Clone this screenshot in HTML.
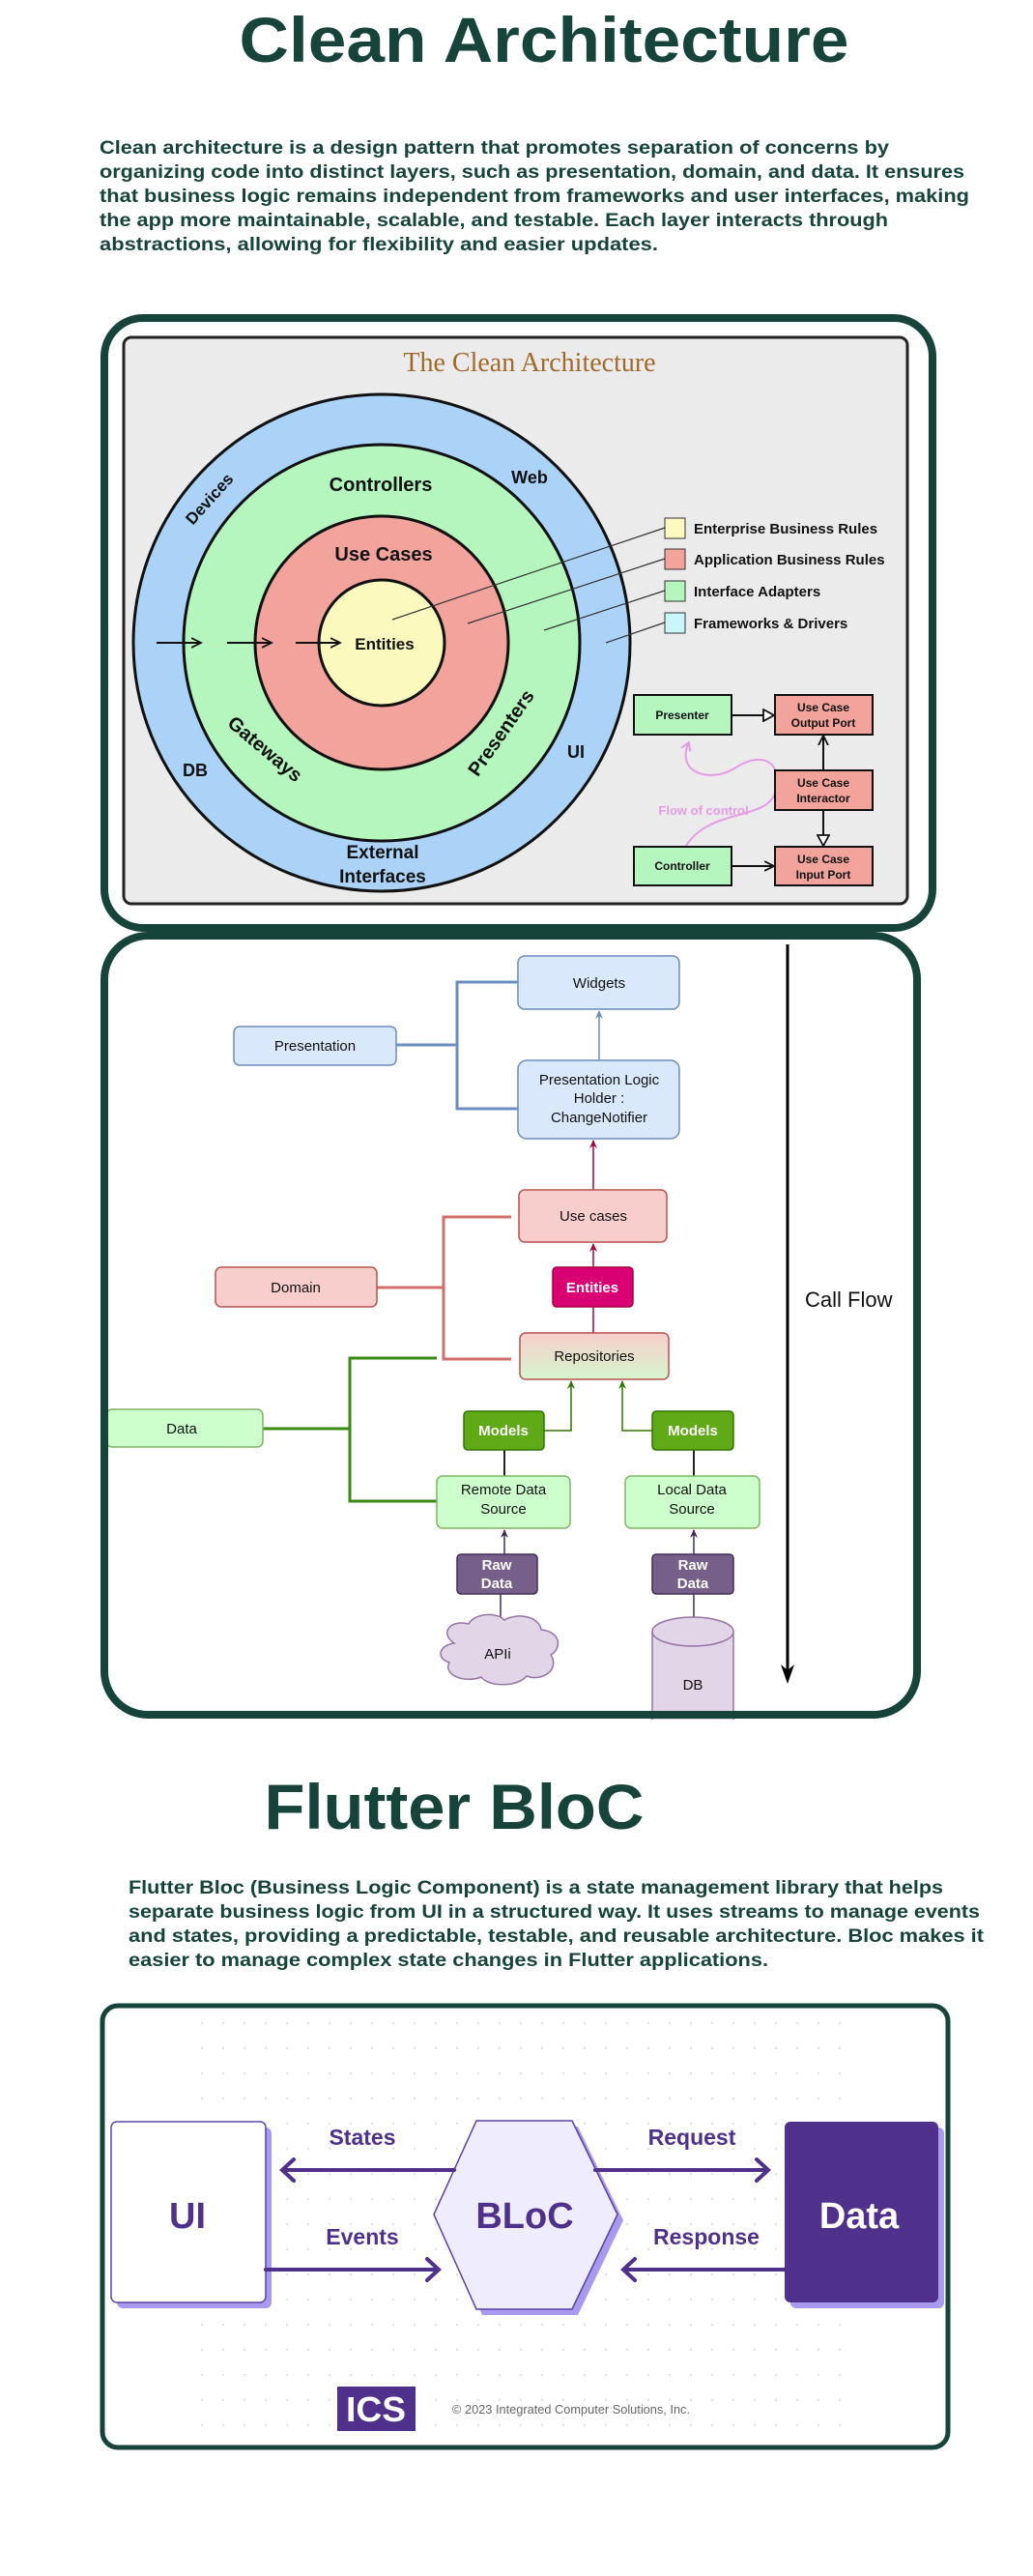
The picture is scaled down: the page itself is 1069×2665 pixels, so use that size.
<!DOCTYPE html>
<html><head><meta charset="utf-8"><style>
html,body{margin:0;padding:0;background:#fff;}
svg{display:block;}
</style></head><body>
<svg width="1069" height="2665" viewBox="0 0 1069 2665" xmlns="http://www.w3.org/2000/svg" font-family="Liberation Sans, sans-serif">
<defs>
<marker id="ab" markerWidth="10" markerHeight="10" refX="8" refY="5" orient="auto" markerUnits="userSpaceOnUse"><path d="M0,1 L9,5 L0,9 L3,5z" fill="#6c8ebf"/></marker>
<marker id="ar" markerWidth="10" markerHeight="10" refX="8" refY="5" orient="auto" markerUnits="userSpaceOnUse"><path d="M0,1 L9,5 L0,9 L3,5z" fill="#a50040"/></marker>
<marker id="ag" markerWidth="10" markerHeight="10" refX="8" refY="5" orient="auto" markerUnits="userSpaceOnUse"><path d="M0,1 L9,5 L0,9 L3,5z" fill="#2d7600"/></marker>
<marker id="ap" markerWidth="10" markerHeight="10" refX="8" refY="5" orient="auto" markerUnits="userSpaceOnUse"><path d="M0,1 L9,5 L0,9 L3,5z" fill="#432d57"/></marker>
<marker id="ak" markerWidth="12" markerHeight="12" refX="10" refY="6" orient="auto" markerUnits="userSpaceOnUse"><path d="M0,1 L10,6 L0,11" fill="none" stroke="#111" stroke-width="1.8"/></marker>
<marker id="at" markerWidth="14" markerHeight="14" refX="12" refY="7" orient="auto" markerUnits="userSpaceOnUse"><path d="M1,1 L12,7 L1,13z" fill="#fff" stroke="#111" stroke-width="1.8"/></marker>
<marker id="apk" markerWidth="12" markerHeight="12" refX="6" refY="6" orient="auto" markerUnits="userSpaceOnUse"><path d="M0,1 L8,6 L0,11" fill="none" stroke="#e59be8" stroke-width="2"/></marker>
<linearGradient id="rg" x1="0" y1="0" x2="0" y2="1"><stop offset="0" stop-color="#f8cecc"/><stop offset="1" stop-color="#d5f5cc"/></linearGradient>
<pattern id="dots" width="22" height="26" patternUnits="userSpaceOnUse"><circle cx="11" cy="13" r="1.2" fill="#d8d8e0"/></pattern>
</defs>

<!-- Title 1 -->
<text x="563" y="64" text-anchor="middle" font-size="66" font-weight="bold" fill="#17443a" textLength="631" lengthAdjust="spacingAndGlyphs">Clean Architecture</text>
<g font-size="19" font-weight="bold" fill="#17443a">
<text x="103" y="159" textLength="817" lengthAdjust="spacingAndGlyphs">Clean architecture is a design pattern that promotes separation of concerns by</text>
<text x="103" y="184" textLength="895" lengthAdjust="spacingAndGlyphs">organizing code into distinct layers, such as presentation, domain, and data. It ensures</text>
<text x="103" y="209" textLength="900" lengthAdjust="spacingAndGlyphs">that business logic remains independent from frameworks and user interfaces, making</text>
<text x="103" y="234" textLength="816" lengthAdjust="spacingAndGlyphs">the app more maintainable, scalable, and testable. Each layer interacts through</text>
<text x="103" y="259" textLength="578" lengthAdjust="spacingAndGlyphs">abstractions, allowing for flexibility and easier updates.</text>
</g>

<!-- Box 1 -->
<rect x="108" y="329" width="857" height="631" rx="40" fill="#fff" stroke="#17443a" stroke-width="8"/>
<rect x="128" y="349" width="811" height="586" rx="8" fill="#ebebeb" stroke="#222" stroke-width="3"/>
<text x="548" y="384" text-anchor="middle" font-family="Liberation Serif, serif" font-size="28" fill="#a06a2c">The Clean Architecture</text>
<circle cx="395" cy="665" r="257" fill="#abd2f7" stroke="#111" stroke-width="3"/>
<circle cx="395" cy="665" r="205" fill="#b4f6bd" stroke="#111" stroke-width="3"/>
<circle cx="395" cy="665" r="131" fill="#f2a39c" stroke="#111" stroke-width="3"/>
<circle cx="395" cy="665" r="65" fill="#fbf9be" stroke="#111" stroke-width="3"/>
<g font-weight="bold" fill="#111" text-anchor="middle">
<text x="394" y="508" font-size="20">Controllers</text>
<text x="397" y="580" font-size="20">Use Cases</text>
<text x="398" y="672" font-size="17">Entities</text>
<text x="548" y="500" font-size="18">Web</text>
<text x="596" y="784" font-size="18">UI</text>
<text x="202" y="803" font-size="18">DB</text>
<text x="396" y="888" font-size="19">External</text>
<text x="396" y="913" font-size="19">Interfaces</text>
<text transform="translate(221,520) rotate(-48)" font-size="17">Devices</text>
<text transform="translate(270,780) rotate(40)" font-size="20">Gateways</text>
<text transform="translate(524,762) rotate(-55)" font-size="20">Presenters</text>
</g>
<g stroke="#111" stroke-width="2">
<line x1="162" y1="665" x2="208" y2="665" marker-end="url(#ak)"/>
<line x1="235" y1="665" x2="281" y2="665" marker-end="url(#ak)"/>
<line x1="306" y1="665" x2="352" y2="665" marker-end="url(#ak)"/>
</g>
<g stroke="#333" stroke-width="1.2">
<line x1="688" y1="546" x2="406" y2="641"/>
<line x1="688" y1="578" x2="484" y2="645"/>
<line x1="688" y1="611" x2="563" y2="652"/>
<line x1="688" y1="644" x2="627" y2="665"/>
</g>
<rect x="688" y="536" width="21" height="21" fill="#fbf9be" stroke="#333"/>
<rect x="688" y="568" width="21" height="21" fill="#f2a39c" stroke="#333"/>
<rect x="688" y="601" width="21" height="21" fill="#b4f6bd" stroke="#333"/>
<rect x="688" y="634" width="21" height="21" fill="#c9f6fb" stroke="#333"/>
<g font-size="15" fill="#111" font-weight="bold">
<text x="718" y="552">Enterprise Business Rules</text>
<text x="718" y="584">Application Business Rules</text>
<text x="718" y="617">Interface Adapters</text>
<text x="718" y="650">Frameworks &amp; Drivers</text>
</g>
<!-- small diagram -->
<path d="M710,875 C735,835 795,850 803,818 C810,790 790,775 760,795 C735,810 700,800 712,770" fill="none" stroke="#e59be8" stroke-width="2" marker-end="url(#apk)"/>
<text x="728" y="843" font-size="13" font-weight="bold" fill="#e59be8" text-anchor="middle">Flow of control</text>
<g stroke="#111" stroke-width="2" fill="none">
<line x1="757" y1="740" x2="801" y2="740" marker-end="url(#at)"/>
<line x1="852" y1="797" x2="852" y2="761" marker-end="url(#ak)"/>
<line x1="852" y1="838" x2="852" y2="875" marker-end="url(#at)"/>
<line x1="757" y1="896" x2="801" y2="896" marker-end="url(#ak)"/>
</g>
<g stroke="#111" stroke-width="2">
<rect x="656" y="719" width="101" height="41" fill="#b4f6bd"/>
<rect x="656" y="876" width="101" height="40" fill="#b4f6bd"/>
<rect x="802" y="719" width="101" height="41" fill="#f2a39c"/>
<rect x="802" y="797" width="101" height="41" fill="#f2a39c"/>
<rect x="802" y="876" width="101" height="40" fill="#f2a39c"/>
</g>
<g font-size="12" font-weight="bold" fill="#111" text-anchor="middle">
<text x="706" y="744">Presenter</text>
<text x="706" y="900">Controller</text>
<text x="852" y="736">Use Case</text><text x="852" y="752">Output Port</text>
<text x="852" y="814">Use Case</text><text x="852" y="830">Interactor</text>
<text x="852" y="893">Use Case</text><text x="852" y="909">Input Port</text>
</g>

<!-- Box 2 -->
<rect x="108" y="968" width="841" height="806" rx="45" fill="#fff"/>
<!-- Call flow -->
<line x1="815" y1="977" x2="815" y2="1738" stroke="#000" stroke-width="3"/>
<path d="M808,1722 L815,1742 L822,1722 L815,1728z" fill="#000"/>
<text x="833" y="1352" font-size="22" fill="#111">Call Flow</text>
<!-- brackets -->
<g fill="none" stroke-width="3">
<path d="M410,1081 H473 M536,1016 H473 V1147 H536" stroke="#6c8ebf"/>
<path d="M390,1332 H459 M529,1259 H459 V1406 H529" stroke="#cf6f6a"/>
<path d="M272,1478 H362 M452,1405 H362 V1553 H452" stroke="#3a8a14"/>
</g>
<g stroke-width="1.5" fill="none">
<line x1="620" y1="1097" x2="620" y2="1046" stroke="#6c8ebf" marker-end="url(#ab)"/>
<line x1="614" y1="1231" x2="614" y2="1180" stroke="#a50040" marker-end="url(#ar)"/>
<line x1="614" y1="1311" x2="614" y2="1287" stroke="#a50040" marker-end="url(#ar)"/>
<line x1="614" y1="1352" x2="614" y2="1379" stroke="#a50040"/>
<path d="M563,1480 H591 V1429" stroke="#2d7600" marker-end="url(#ag)"/>
<path d="M675,1480 H644 V1429" stroke="#2d7600" marker-end="url(#ag)"/>
<line x1="522" y1="1500" x2="522" y2="1527" stroke="#222" stroke-width="2"/>
<line x1="718" y1="1500" x2="718" y2="1527" stroke="#222" stroke-width="2"/>
<line x1="522" y1="1608" x2="522" y2="1583" stroke="#432d57" marker-end="url(#ap)"/>
<line x1="718" y1="1608" x2="718" y2="1583" stroke="#432d57" marker-end="url(#ap)"/>
<line x1="518" y1="1649" x2="518" y2="1675" stroke="#432d57"/>
<line x1="718" y1="1649" x2="718" y2="1675" stroke="#432d57"/>
</g>
<g stroke-width="1.5">
<rect x="536" y="989" width="167" height="55" rx="7" fill="#dae8fc" stroke="#6c8ebf"/>
<rect x="242" y="1062" width="168" height="40" rx="6" fill="#dae8fc" stroke="#6c8ebf"/>
<rect x="536" y="1097" width="167" height="81" rx="9" fill="#dae8fc" stroke="#6c8ebf"/>
<rect x="537" y="1231" width="153" height="54" rx="6" fill="#f8cecc" stroke="#b85450"/>
<rect x="223" y="1311" width="167" height="41" rx="6" fill="#f8cecc" stroke="#b85450"/>
<rect x="572" y="1311" width="83" height="41" rx="4" fill="#d80073" stroke="#a50040"/>
<rect x="538" y="1379" width="154" height="48" rx="6" fill="url(#rg)" stroke="#b85450"/>
<rect x="110" y="1458" width="162" height="39" rx="6" fill="#ccffcc" stroke="#82b366"/>
<rect x="480" y="1460" width="83" height="40" rx="4" fill="#60a917" stroke="#2d7600"/>
<rect x="675" y="1460" width="84" height="40" rx="4" fill="#60a917" stroke="#2d7600"/>
<rect x="452" y="1527" width="138" height="54" rx="6" fill="#ccffcc" stroke="#82b366"/>
<rect x="647" y="1527" width="139" height="54" rx="6" fill="#ccffcc" stroke="#82b366"/>
<rect x="473" y="1608" width="83" height="41" rx="4" fill="#76608a" stroke="#432d57"/>
<rect x="675" y="1608" width="84" height="41" rx="4" fill="#76608a" stroke="#432d57"/>
<path d="M470,1700 C455,1690 465,1675 485,1680 C492,1668 515,1668 522,1676 C535,1668 558,1672 560,1686 C580,1688 582,1705 570,1712 C580,1728 560,1740 545,1734 C535,1746 505,1745 498,1735 C480,1742 458,1732 465,1720 C450,1715 455,1702 470,1700z" fill="#e1d5e7" stroke="#9673a6"/>
<path d="M675,1688 V1790 H759 V1688" fill="#e1d5e7" stroke="#9673a6"/>
<ellipse cx="717" cy="1688" rx="42" ry="15" fill="#e1d5e7" stroke="#9673a6"/>
</g>
<rect x="108" y="968" width="841" height="806" rx="45" fill="none" stroke="#17443a" stroke-width="8"/>
<rect x="0" y="1779" width="1069" height="30" fill="#fff"/>
<g font-size="15" fill="#111" text-anchor="middle">
<text x="620" y="1022">Widgets</text>
<text x="326" y="1087">Presentation</text>
<text x="620" y="1122">Presentation Logic</text>
<text x="620" y="1141">Holder :</text>
<text x="620" y="1161">ChangeNotifier</text>
<text x="614" y="1263">Use cases</text>
<text x="306" y="1337">Domain</text>
<text x="615" y="1408">Repositories</text>
<text x="188" y="1483">Data</text>
<text x="521" y="1546">Remote Data</text><text x="521" y="1566">Source</text>
<text x="716" y="1546">Local Data</text><text x="716" y="1566">Source</text>
<text x="515" y="1716">APIi</text>
<text x="717" y="1748">DB</text>
</g>
<g font-size="15" fill="#fff" font-weight="bold" text-anchor="middle">
<text x="613" y="1337">Entities</text>
<text x="521" y="1485">Models</text>
<text x="717" y="1485">Models</text>
<text x="514" y="1624">Raw</text><text x="514" y="1643">Data</text>
<text x="717" y="1624">Raw</text><text x="717" y="1643">Data</text>
</g>

<!-- Title 2 -->
<text x="470" y="1892" text-anchor="middle" font-size="66" font-weight="bold" fill="#17443a" textLength="393" lengthAdjust="spacingAndGlyphs">Flutter BloC</text>
<g font-size="19" font-weight="bold" fill="#17443a">
<text x="133" y="1959" textLength="843" lengthAdjust="spacingAndGlyphs">Flutter Bloc (Business Logic Component) is a state management library that helps</text>
<text x="133" y="1984" textLength="881" lengthAdjust="spacingAndGlyphs">separate business logic from UI in a structured way. It uses streams to manage events</text>
<text x="133" y="2009" textLength="885" lengthAdjust="spacingAndGlyphs">and states, providing a predictable, testable, and reusable architecture. Bloc makes it</text>
<text x="133" y="2034" textLength="662" lengthAdjust="spacingAndGlyphs">easier to manage complex state changes in Flutter applications.</text>
</g>

<!-- Box 3 -->
<rect x="106" y="2075" width="875" height="457" rx="16" fill="#fff"/>
<rect x="190" y="2085" width="700" height="440" fill="url(#dots)" opacity="0.8"/>
<rect x="121" y="2201" width="160" height="187" rx="6" fill="#a99af0"/>
<rect x="115" y="2195" width="160" height="187" rx="6" fill="#fff" stroke="#5b45a8" stroke-width="1.5"/>
<rect x="818" y="2201" width="159" height="187" rx="6" fill="#a99af0"/>
<rect x="812" y="2195" width="159" height="187" rx="6" fill="#4f318c"/>
<polygon points="499,2200 598,2200 645,2297 598,2395 499,2395 455,2297" fill="#a99af0"/>
<polygon points="493,2194 592,2194 639,2291 592,2389 493,2389 449,2291" fill="#eeecfd" stroke="#5a41a0" stroke-width="1.5"/>
<g stroke="#4f318c" stroke-width="4" fill="none" stroke-linecap="round">
<line x1="294" y1="2245" x2="470" y2="2245"/><path d="M304,2234 L292,2245 L304,2256"/>
<line x1="616" y1="2245" x2="793" y2="2245"/><path d="M783,2234 L795,2245 L783,2256"/>
<line x1="275" y1="2348" x2="452" y2="2348"/><path d="M442,2337 L454,2348 L442,2359"/>
<line x1="647" y1="2348" x2="812" y2="2348"/><path d="M657,2337 L645,2348 L657,2359"/>
</g>
<g font-size="23" font-weight="bold" fill="#4f318c" text-anchor="middle">
<text x="375" y="2219">States</text>
<text x="716" y="2219">Request</text>
<text x="375" y="2322">Events</text>
<text x="731" y="2322">Response</text>
<text x="194" y="2305" font-size="38">UI</text>
<text x="543" y="2305" font-size="38">BLoC</text>
<text x="889" y="2305" font-size="38" fill="#fff">Data</text>
</g>
<rect x="349" y="2469" width="81" height="46" fill="#4f318c"/>
<text x="389" y="2505" text-anchor="middle" font-size="36" font-weight="bold" fill="#fff" textLength="62" lengthAdjust="spacingAndGlyphs">ICS</text>
<text x="468" y="2497" font-size="13" fill="#666" textLength="246" lengthAdjust="spacingAndGlyphs">© 2023 Integrated Computer Solutions, Inc.</text>
<rect x="106" y="2075" width="875" height="457" rx="16" fill="none" stroke="#17443a" stroke-width="5"/>
</svg>
</body></html>
